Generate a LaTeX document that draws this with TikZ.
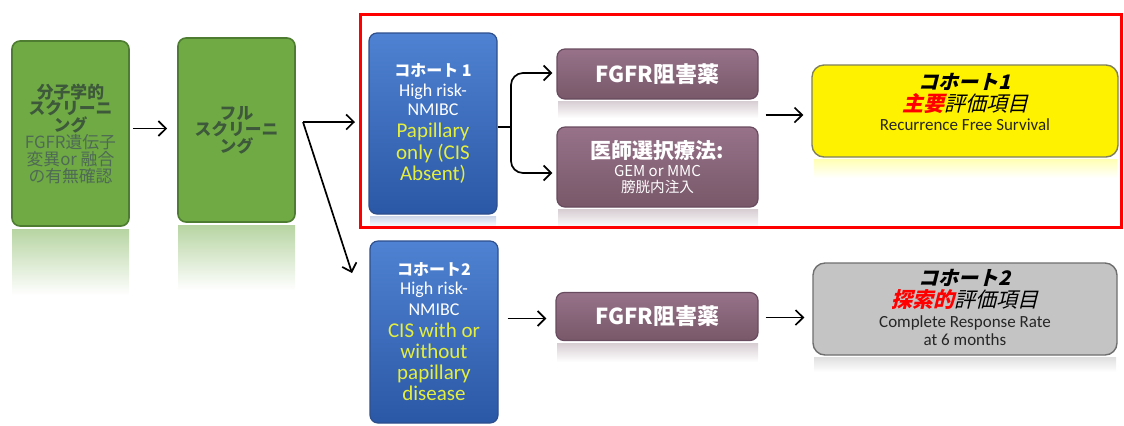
\documentclass[tikz,border=0pt]{standalone}
\usepackage{fontspec}
\setmainfont{Carlito}
\newfontfamily\jp{Noto Sans CJK JP}
\newfontfamily\jpit{Noto Sans CJK JP}[FakeSlant=0.25]
\usetikzlibrary{arrows.meta}
\definecolor{grfill}{HTML}{6FAA45}
\definecolor{grline}{HTML}{4E7C30}
\definecolor{grtext}{HTML}{3D583A}
\definecolor{grtext2}{HTML}{4F6A55}
\definecolor{bltop}{HTML}{4F82D2}
\definecolor{blbot}{HTML}{2B58A6}
\definecolor{blline}{HTML}{2E4F8C}
\definecolor{ylw}{HTML}{E4EE3E}
\definecolor{putop}{HTML}{977289}
\definecolor{pubot}{HTML}{785869}
\definecolor{puline}{HTML}{684B5E}
\definecolor{ybline}{HTML}{80805C}
\definecolor{gyfill}{HTML}{C4C4C4}
\definecolor{gyline}{HTML}{6E6E6E}
\begin{document}
\begin{tikzpicture}[x=0.5pt,y=-0.5pt,
  greenbox/.style={draw=grline, line width=0.8pt, fill=grfill, rounded corners=4pt, inner sep=0pt, align=center},
  bluebox/.style={draw=blline, line width=0.6pt, top color=bltop, bottom color=blbot, rounded corners=4pt, inner sep=0pt, align=center, text=white, minimum width=64pt},
  purplebox/.style={draw=puline, line width=0.6pt, top color=putop, bottom color=pubot, rounded corners=4pt, inner sep=0pt, align=center, text=white, minimum width=100.5pt},
  resbox/.style={line width=0.7pt, rounded corners=6pt, inner sep=0pt, minimum width=153pt, minimum height=46pt},
  conn/.style={draw=black, line width=0.85pt, -{Straight Barb[length=3.8pt,width=7.5pt]}},
  plain/.style={draw=black, line width=0.85pt},
  refl/.style={draw=none}
]
\useasboundingbox (0,0) rectangle (1124,425);
% reflections
\fill[refl, top color=grfill!50, bottom color=white] (12,229) rectangle (129,295);
\fill[refl, top color=grfill!50, bottom color=white] (178,225) rectangle (295,290);
\fill[refl, top color=pubot!30, bottom color=white] (558,101) rectangle (758,118);
\fill[refl, top color=pubot!30, bottom color=white] (558,209) rectangle (758,228);
\fill[refl, top color=pubot!30, bottom color=white] (557,343) rectangle (758,362);
\fill[refl, top color=yellow!30, bottom color=white] (814,159) rectangle (1117,178);
\fill[refl, top color=gray!25, bottom color=white] (814,357) rectangle (1116,372);
\fill[refl, top color=blbot!25, bottom color=white] (370,216) rectangle (496,227);

% frame
\node[draw=red, line width=1.5pt, minimum width=380.5pt, minimum height=106.5pt, inner sep=0pt] (frame) at (740.5,120.5) {};

% green boxes
\node[greenbox, minimum width=58.5pt, minimum height=92.5pt, font=\jp\fontsize{8.4}{8.4}\selectfont] (g1) at (70.5,133.5)
  {\color{grtext}\bfseries 分子学的\\ \color{grtext}\bfseries スクリーニ\\ \color{grtext}\bfseries ング\\ \color{grtext2}FGFR遺伝子\\ \color{grtext2}変異or 融合\\ \color{grtext2}の有無確認};
\node[greenbox, minimum width=58.5pt, minimum height=92pt, font=\jp\bfseries\fontsize{8.4}{8.2}\selectfont, text=grtext] (g2) at (236.5,130)
  {フル\\スクリーニ\\ング};

% blue boxes
\node[bluebox, minimum height=90.5pt, font=\fontsize{9}{9.5}\selectfont] (b1) at (433,123.5)
  {{\jp\bfseries\fontsize{8}{9}\selectfont コホート 1}\\[0.5pt] High risk-\\ NMIBC\\[1.5pt]
   {\color{ylw}\fontsize{10.5}{11}\selectfont Papillary}\\[1.5pt] {\color{ylw}\fontsize{10.5}{11}\selectfont only (CIS}\\[1pt] {\color{ylw}\fontsize{10.5}{11}\selectfont Absent)}};
\node[bluebox, minimum height=91pt, font=\fontsize{9}{9.5}\selectfont] (b2) at (434,332)
  {{\jp\bfseries\fontsize{8}{9}\selectfont コホート2}\\ High risk-\\[1pt] NMIBC\\[1.5pt]
   {\color{ylw}\fontsize{10.5}{11}\selectfont CIS with or}\\[1pt] {\color{ylw}\fontsize{10.5}{11}\selectfont without}\\[1pt] {\color{ylw}\fontsize{10.5}{11}\selectfont papillary}\\[1pt] {\color{ylw}\fontsize{10.5}{11}\selectfont disease}};

% purple boxes
\node[purplebox, minimum height=25pt, font=\jp\bfseries\fontsize{11}{12}\selectfont] (p1) at (657.5,74) {FGFR阻害薬};
\node[purplebox, minimum height=40pt, font=\jp\fontsize{7.3}{8}\selectfont] (p2) at (657.5,167)
  {{\bfseries\fontsize{10.5}{11}\selectfont 医師選択療法:}\\[1pt] {\fontsize{7.5}{7.5}\selectfont GEM or MMC}\\ 膀胱内注入};
\node[purplebox, minimum width=101pt, minimum height=24pt, font=\jp\bfseries\fontsize{11}{12}\selectfont] (p3) at (657,316.5) {FGFR阻害薬};

% result boxes
\node[resbox, draw=ybline, fill=yellow] (y1) at (965,111) {};
\node[align=center, inner sep=0pt, font=\fontsize{8.5}{9}\selectfont] (y1t) at (965,102)
  {{\jpit\bfseries\fontsize{10}{10}\selectfont コホート1}\\
   {\jpit\fontsize{10.5}{10.5}\selectfont{\bfseries\color{red}主要}評価項目}\\[0.5pt]
   {\color{black!85}Recurrence Free Survival}};
\node[resbox, draw=gyline, fill=gyfill, minimum width=152pt] (gr) at (965,309) {};
\node[align=center, inner sep=0pt, font=\fontsize{8.5}{9}\selectfont] (grt) at (965,307)
  {{\jpit\bfseries\fontsize{10}{10}\selectfont コホート2}\\[0.5pt]
   {\jpit\fontsize{10.5}{10.5}\selectfont{\bfseries\color{red}探索的}評価項目}\\[1pt]
   {\color{black!85}Complete Response Rate}\\ {\color{black!85}at 6 months}};

% connectors
\draw[conn] ([xshift=1.5pt,yshift=2.5pt]g1.east) -- ([xshift=-5pt,yshift=2.5pt]g1.east -| g2.west);
\coordinate (gfork) at (303,122);
\coordinate (e1) at (355,122);
\coordinate (e2) at (352,273);
\draw[conn] (gfork) -- (e1);
\draw[conn] (gfork) -- (e2);
\coordinate (bfork) at (511,127);
\draw[plain] (b1.east |- bfork) -- (bfork);
\draw[conn, rounded corners=6pt] (bfork) |- ([xshift=-2pt,yshift=0.5pt]p1.west);
\draw[conn, rounded corners=6pt] (bfork) |- ([xshift=-2pt,yshift=-3pt]p2.west);
\draw[conn] ([xshift=3.5pt,yshift=-2pt]p1.east |- y1.west) -- ([xshift=-4pt,yshift=-2pt]y1.west);
\draw[conn] ([xshift=4.5pt,yshift=-1pt]b2.east |- p3.west) -- ([xshift=-4.5pt,yshift=-1pt]p3.west);
\draw[conn] ([xshift=3.5pt,yshift=-0.5pt]p3.east) -- ([xshift=-4pt,yshift=-0.5pt]p3.east -| gr.west);
\end{tikzpicture}
\end{document}
